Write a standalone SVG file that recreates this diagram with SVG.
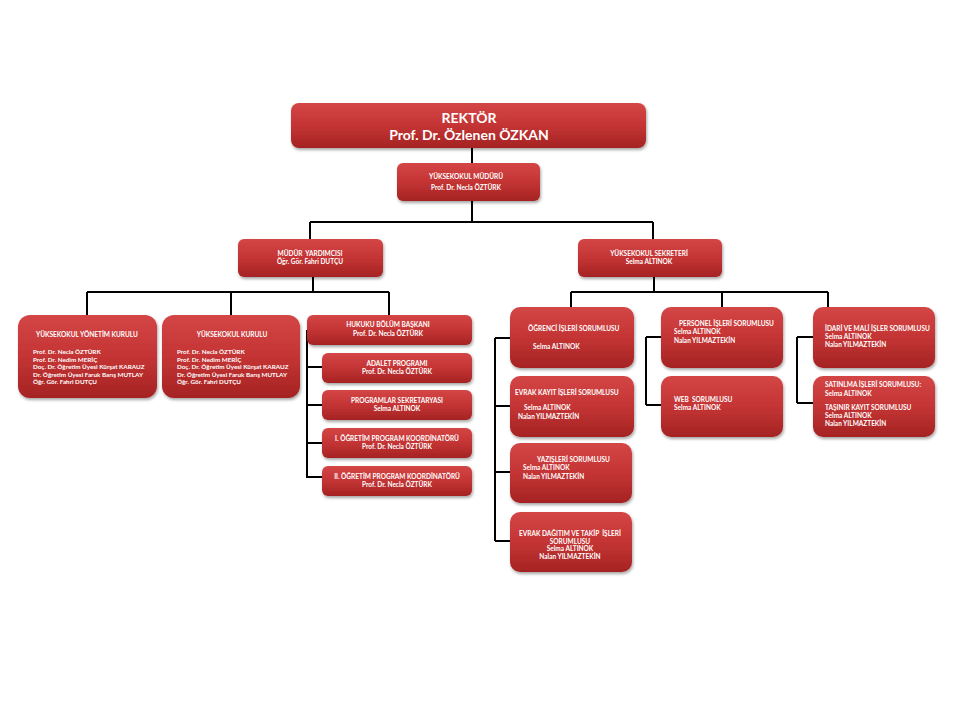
<svg xmlns="http://www.w3.org/2000/svg" width="960" height="720" viewBox="0 0 960 720">
<defs>
<linearGradient id="g" x1="0" y1="0" x2="0" y2="1">
<stop offset="0" stop-color="#d44646"/>
<stop offset="0.5" stop-color="#c43434"/>
<stop offset="1" stop-color="#a52323"/>
</linearGradient>
<filter id="sh" x="-10%" y="-10%" width="125%" height="140%">
<feDropShadow dx="1" dy="2" stdDeviation="1.5" flood-color="#000" flood-opacity="0.35"/>
</filter>
</defs>
<style>
.b{fill:url(#g);filter:url(#sh)}
text{font-family:Lato,"Liberation Sans",sans-serif;font-weight:bold;fill:#fff;font-size:6.5px}
.c{text-anchor:middle}
.big{font-size:14px}
.k{font-size:6.3px}
.ln{stroke:#000;stroke-width:2;fill:none}
</style>
<rect width="960" height="720" fill="#fff"/>
<g id="connectors" class="ln">
<path d="M472 148V163M472 201V222M310 222H653M310 222V239M653 222V239"/>
<path d="M313 277V292M87 292H389M87 292V315M231 292V315M389 292V315"/>
<path d="M654 277V292M571 292H828M571 292V307M722 292V307M828 292V307"/>
<path d="M307 330V478M307 367H322M307 405H322M307 443H322M307 477H322"/>
<path d="M495 338V541M495 338H510M495 406H510M495 472H510M495 541H510"/>
<path d="M646 337V405M646 337H661M646 405H661"/>
<path d="M797 337V403M797 337H813M797 403H813"/>
</g>
<g id="rektor"><rect class="b" x="291" y="103" width="355" height="45" rx="8"/>
<text class="c big" x="469" y="123">REKTÖR</text><text class="c big" x="469" y="140">Prof. Dr. Özlenen ÖZKAN</text></g>
<g id="mudur"><rect class="b" x="397" y="163" width="143" height="38" rx="6"/>
<text class="c" x="466" y="179">YÜKSEKOKUL MÜDÜRÜ</text><text class="c" x="466" y="190">Prof. Dr. Necla ÖZTÜRK</text></g>
<g id="mudur-yardimcisi"><rect class="b" x="238" y="239" width="145" height="38" rx="6"/>
<text class="c" x="310" y="256" xml:space="preserve">MÜDÜR  YARDIMCISI</text><text class="c" x="310" y="264">Öğr. Gör. Fahri DUTÇU</text></g>
<g id="sekreter"><rect class="b" x="578" y="239" width="144" height="38" rx="6"/>
<text class="c" x="649" y="256">YÜKSEKOKUL SEKRETERİ</text><text class="c" x="649" y="264">Selma ALTINOK</text></g>
<g id="yonetim-kurulu"><rect class="b" x="18" y="315" width="139" height="83" rx="12"/>
<text class="c" x="87" y="337">YÜKSEKOKUL YÖNETİM KURULU</text>
<text class="k" x="33" y="354">Prof. Dr. Necla ÖZTÜRK</text><text class="k" x="33" y="361.5">Prof. Dr. Nedim MERİÇ</text><text class="k" x="33" y="369">Doç. Dr. Öğretim Üyesi Kürşat KARAUZ</text><text class="k" x="33" y="376.5">Dr. Öğretim Üyesi Faruk Barış MUTLAY</text><text class="k" x="33" y="384">Öğr. Gör. Fahri DUTÇU</text></g>
<g id="kurulu"><rect class="b" x="162" y="315" width="138" height="83" rx="12"/>
<text class="c" x="232" y="337">YÜKSEKOKUL KURULU</text>
<text class="k" x="177" y="354">Prof. Dr. Necla ÖZTÜRK</text><text class="k" x="177" y="361.5">Prof. Dr. Nedim MERİÇ</text><text class="k" x="177" y="369">Doç. Dr. Öğretim Üyesi Kürşat KARAUZ</text><text class="k" x="177" y="376.5">Dr. Öğretim Üyesi Faruk Barış MUTLAY</text><text class="k" x="177" y="384">Öğr. Gör. Fahri DUTÇU</text></g>
<g id="hukuku"><rect class="b" x="307" y="315" width="165" height="30" rx="6"/>
<text class="c" x="388" y="327">HUKUKU BÖLÜM BAŞKANI</text><text class="c" x="388" y="336">Prof. Dr. Necla ÖZTÜRK</text></g>
<g id="adalet"><rect class="b" x="322" y="353" width="150" height="30" rx="6"/>
<text class="c" x="397" y="365.5">ADALET PROGRAMI</text><text class="c" x="397" y="374">Prof. Dr. Necla ÖZTÜRK</text></g>
<g id="programlar"><rect class="b" x="322" y="390" width="150" height="30" rx="6"/>
<text class="c" x="397" y="402.5">PROGRAMLAR SEKRETARYASI</text><text class="c" x="397" y="411">Selma ALTINOK</text></g>
<g id="ogretim1"><rect class="b" x="322" y="428" width="150" height="30" rx="6"/>
<text class="c" x="397" y="440.5">I. ÖĞRETİM PROGRAM KOORDİNATÖRÜ</text><text class="c" x="397" y="449">Prof. Dr. Necla ÖZTÜRK</text></g>
<g id="ogretim2"><rect class="b" x="322" y="466" width="150" height="30" rx="6"/>
<text class="c" x="397" y="478.5">II. ÖĞRETİM PROGRAM KOORDİNATÖRÜ</text><text class="c" x="397" y="487">Prof. Dr. Necla ÖZTÜRK</text></g>
<g id="ogrenci"><rect class="b" x="510" y="307" width="124" height="61" rx="10"/>
<text x="528" y="331">ÖĞRENCİ İŞLERİ SORUMLUSU</text><text x="533" y="349">Selma ALTINOK</text></g>
<g id="evrak-kayit"><rect class="b" x="510" y="376" width="124" height="61" rx="10"/>
<text x="515" y="395">EVRAK KAYIT İŞLERİ SORUMLUSU</text><text x="524" y="410">Selma ALTINOK</text><text x="518" y="419">Nalan YILMAZTEKİN</text></g>
<g id="yazisleri"><rect class="b" x="510" y="443" width="122" height="60" rx="10"/>
<text x="537" y="462">YAZIŞLERİ SORUMLUSU</text><text x="523" y="470">Selma ALTINOK</text><text x="523" y="479">Nalan YILMAZTEKİN</text></g>
<g id="evrak-dagitim"><rect class="b" x="510" y="512" width="122" height="60" rx="10"/>
<text class="c" x="570" y="536" xml:space="preserve">EVRAK DAĞITIM VE TAKİP  İŞLERİ</text><text class="c" x="570" y="544">SORUMLUSU</text><text class="c" x="570" y="551">Selma ALTINOK</text><text class="c" x="570" y="559">Nalan YILMAZTEKİN</text></g>
<g id="personel"><rect class="b" x="661" y="307" width="122" height="61" rx="10"/>
<text x="679" y="326">PERSONEL İŞLERİ SORUMLUSU</text><text x="674" y="334">Selma ALTINOK</text><text x="674" y="343">Nalan YILMAZTEKİN</text></g>
<g id="web"><rect class="b" x="661" y="376" width="122" height="61" rx="10"/>
<text x="674" y="402" xml:space="preserve">WEB  SORUMLUSU</text><text x="674" y="410">Selma ALTINOK</text></g>
<g id="idari"><rect class="b" x="813" y="307" width="122" height="61" rx="10"/>
<text x="825" y="331">İDARİ VE MALİ İŞLER SORUMLUSU</text><text x="825" y="339">Selma ALTINOK</text><text x="825" y="347">Nalan YILMAZTEKİN</text></g>
<g id="satinalma"><rect class="b" x="813" y="376" width="122" height="61" rx="10"/>
<text x="825" y="387">SATINLMA İŞLERİ SORUMLUSU:</text><text x="825" y="396">Selma ALTINOK</text><text x="825" y="410">TAŞINIR KAYIT SORUMLUSU</text><text x="825" y="418">Selma ALTINOK</text><text x="825" y="426">Nalan YILMAZTEKİN</text></g>
</svg>
